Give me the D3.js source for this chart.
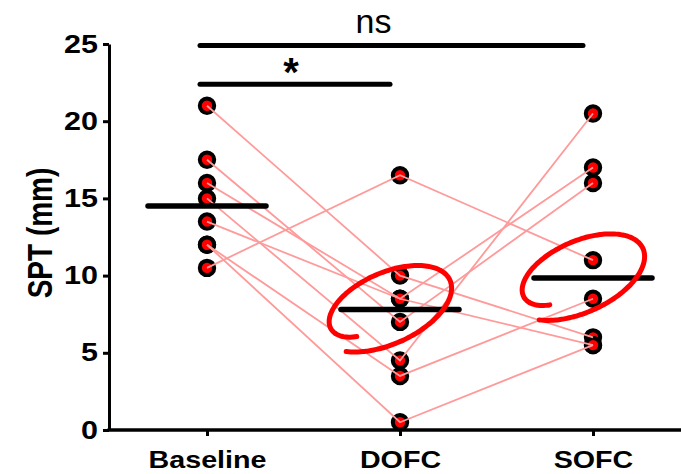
<!DOCTYPE html>
<html>
<head>
<meta charset="utf-8">
<script src="https://d3js.org/d3.v7.min.js"></script>
<style>
  html, body { margin: 0; padding: 0; background: #fff; }
  svg { display: block; }
</style>
</head>
<body>
<div id="chart"></div>
<script>
// categories on the x axis
const categories = ['Baseline', 'DOFC', 'SOFC'];

// one entry per subject, same order in every array
const baseline = [21, 17.5, 16, 15, 13.5, 12, 12, 10.5];
const dofc = [10, 7, 8.5, 4.5, 8.5, 3.5, 0.5, 16.5];
const sofc = [6, 16, 17, 20.5, 5.5, 8.5, 5.5, 11];

// median bars as drawn
const medians = [14.5, 7.8, 9.85];

const yTicks = [0, 5, 10, 15, 20, 25];

// significance brackets
const compFrom = ['Baseline', 'Baseline'];
const compTo = ['DOFC', 'SOFC'];
const compLabel = ['*', 'ns'];
const compLevel = [22.4, 24.9];

// groups circled by hand in red
const circledGroups = ['DOFC', 'SOFC'];

const width = 681;
const height = 474;
const font = "'Liberation Sans', Arial, sans-serif";
const stretch = 1.22; // the original text is a bit wider than Arial

const svg = d3.select('#chart')
  .append('svg')
  .attr('width', width)
  .attr('height', height);

const x = d3.scalePoint()
  .domain(categories)
  .range([207, 593]);

const y = d3.scaleLinear()
  .domain([0, 25])
  .range([430, 44]);

const axisX0 = 109;

// Y axis
const yAxis = svg.append('g')
  .attr('transform', `translate(${axisX0}, 0)`)
  .call(d3.axisLeft(y).tickValues(yTicks).tickSize(6).tickSizeOuter(0));
yAxis.select('.domain').attr('stroke-width', 3);
yAxis.selectAll('.tick line').attr('stroke-width', 3);
yAxis.selectAll('.tick text')
  .attr('x', 0)
  .attr('transform', `translate(-11, 0) scale(${stretch}, 1)`)
  .attr('font-family', font)
  .attr('font-weight', 'bold')
  .attr('font-size', '25px')
  .attr('fill', '#000');

// X axis
const xAxis = svg.append('g')
  .attr('transform', `translate(0, ${y(0)})`)
  .call(d3.axisBottom(x).tickSize(6));
xAxis.select('.domain').remove();
xAxis.append('line')
  .attr('x1', axisX0 - 1.5)
  .attr('x2', width)
  .attr('stroke', '#000')
  .attr('stroke-width', 3.5);
xAxis.selectAll('.tick line').attr('stroke-width', 3);
xAxis.selectAll('.tick text')
  .attr('y', 0)
  .attr('dy', 0)
  .attr('transform', `translate(0, 38) scale(${stretch}, 1)`)
  .attr('font-family', font)
  .attr('font-weight', 'bold')
  .attr('font-size', '23.5px')
  .attr('fill', '#000');

// Y axis title
svg.append('text')
  .attr('transform', `translate(52, ${y(12.5) - 4}) rotate(-90) scale(1, ${stretch})`)
  .attr('text-anchor', 'middle')
  .attr('font-family', font)
  .attr('font-weight', 'bold')
  .attr('font-size', '28px')
  .text('SPT (mm)');

// points
const groups = [baseline, dofc, sofc];
const points = [];
groups.forEach((vals, gi) => {
  vals.forEach(v => points.push({ cat: categories[gi], v }));
});

svg.append('g')
  .selectAll('circle')
  .data(points)
  .enter()
  .append('circle')
  .attr('cx', d => x(d.cat))
  .attr('cy', d => y(d.v))
  .attr('r', 7.2)
  .attr('fill', '#ff0000')
  .attr('stroke', '#000')
  .attr('stroke-width', 4);

// subject lines (drawn over the points, like the original)
const subjects = baseline.map((b, i) => [b, dofc[i], sofc[i]]);
const line = d3.line()
  .x((d, i) => x(categories[i]))
  .y(d => y(d));

svg.append('g')
  .selectAll('path')
  .data(subjects)
  .enter()
  .append('path')
  .attr('d', line)
  .attr('fill', 'none')
  .attr('stroke', '#ff9a9a')
  .attr('stroke-width', 1.8);

// median bars
svg.append('g')
  .selectAll('line')
  .data(medians)
  .enter()
  .append('line')
  .attr('x1', (d, i) => x(categories[i]) - 59)
  .attr('x2', (d, i) => x(categories[i]) + 59)
  .attr('y1', d => y(d))
  .attr('y2', d => y(d))
  .attr('stroke', '#000')
  .attr('stroke-width', 5.5)
  .attr('stroke-linecap', 'round');

// significance brackets
compFrom.forEach((from, i) => {
  const x1 = x(from) - 7;
  const x2 = x(compTo[i]) - 10;
  const yy = y(compLevel[i]);
  svg.append('line')
    .attr('x1', x1)
    .attr('x2', x2)
    .attr('y1', yy)
    .attr('y2', yy)
    .attr('stroke', '#000')
    .attr('stroke-width', 5)
    .attr('stroke-linecap', 'round');
  const star = compLabel[i] === '*';
  svg.append('text')
    .attr('x', star ? (x1 + x2) / 2 - 4 : (x1 + x2) / 2 - 18)
    .attr('y', star ? yy + 2 : yy - 13)
    .attr('text-anchor', 'middle')
    .attr('font-family', font)
    .attr('font-weight', star ? 'bold' : 'normal')
    .attr('font-size', star ? '40px' : '34px')
    .text(compLabel[i]);
});

// hand-drawn red loops around the medians: a tilted ellipse that spirals
// slightly inward so both ends stay open at the lower left
const tilt = -24 * Math.PI / 180;
const loopPoints = (cx, cy) => d3.range(0, 1.0001, 1 / 150).map(u => {
  const t = 2.45 - u * 6.2;
  const s = 1.12 - 0.12 * u - 0.25 * Math.pow(u, 10);
  const lx = 64 * Math.cos(t) * s;
  const ly = 33 * Math.sin(t) * s;
  return [cx + lx * Math.cos(tilt) - ly * Math.sin(tilt),
          cy + lx * Math.sin(tilt) + ly * Math.cos(tilt)];
});
const loop = d3.line().curve(d3.curveBasis);

svg.append('g')
  .selectAll('path')
  .data(circledGroups)
  .enter()
  .append('path')
  .attr('d', c => loop(loopPoints(x(c) - 13, y(medians[categories.indexOf(c)]) - 2)))
  .attr('fill', 'none')
  .attr('stroke', '#ff0000')
  .attr('stroke-width', 5)
  .attr('stroke-linecap', 'round')
  .attr('stroke-linejoin', 'round');
</script>
</body>
</html>
